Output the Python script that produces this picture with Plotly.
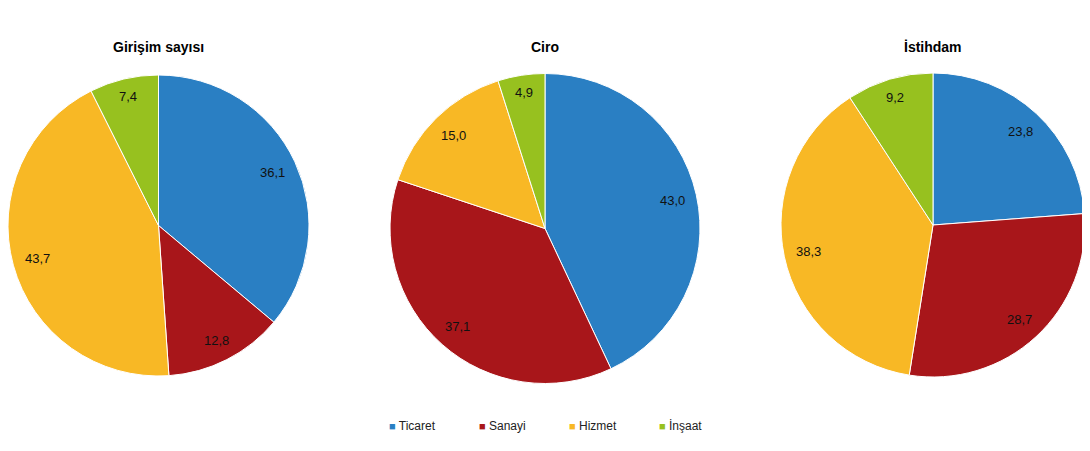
import math
import plotly.graph_objects as go

categories = ["Ticaret", "Sanayi", "Hizmet", "İnşaat"]
girisim = [36.1, 12.8, 43.7, 7.4]
ciro = [43.0, 37.1, 15.0, 4.9]
istihdam = [23.8, 28.7, 38.3, 9.2]
titles = ["Girişim sayısı", "Ciro", "İstihdam"]
colors = ["#2a7fc3", "#a8161a", "#f8b825", "#97c11f"]

OFF = 8  # page body margin
SW, SH = 1090, 451
W, H = SW, SH - OFF
FONT = "Liberation Sans, Arial"


def px(sx):
    return min(max((sx - OFF) / W, 0), 1)


def py(sy):
    return min(max(1 - (sy - OFF) / H, 0), 1)


# screen-pixel boxes (x0, x1, ytop, ybottom)
boxes = [(8, 309, 74, 377), (390, 700, 73, 384), (781, 1085, 72, 378)]

fig = go.Figure()
for vals, box in zip([girisim, ciro, istihdam], boxes):
    x0, x1, yt, yb = box
    fig.add_trace(go.Pie(
        labels=categories, values=vals, sort=False, direction="clockwise",
        rotation=0, marker=dict(colors=colors, line=dict(color="white", width=1)),
        textinfo="none",
        domain=dict(x=[px(x0), px(x1)], y=[py(yb), py(yt)]),
        showlegend=False, hoverinfo="label+percent",
    ))
    # "inside end" labels
    cx, cy = (x0 + x1) / 2, (yt + yb) / 2
    r = min(x1 - x0, yb - yt) / 2
    total = sum(vals)
    cum = 0
    for v in vals:
        mid = (cum + v / 2) / total * 2 * math.pi
        cum += v
        s, c = math.sin(mid), math.cos(mid)
        txt = ("%.1f" % v).replace(".", ",")
        hw = 3.6 * len(txt)
        hh = 7
        d = r - 9 - (abs(hw * s) + abs(hh * c))
        fig.add_annotation(text=txt, x=px(cx + d * s), y=py(cy - d * c),
                           xref="paper", yref="paper", showarrow=False,
                           xanchor="center", yanchor="middle",
                           font=dict(family=FONT, size=13, color="#111111"))

for c, col in zip(categories, colors):
    fig.add_trace(go.Scatter(
        x=[None], y=[None], mode="markers",
        name="<span style='color:%s;font-size:11px'>■</span> %s" % (col, c),
        marker=dict(symbol="square", size=1, color="rgba(0,0,0,0)")))

centers = [158, 545, 933]
for t, cx in zip(titles, centers):
    fig.add_annotation(text="<b>%s</b>" % t, x=px(cx), y=py(47), xref="paper", yref="paper",
                       showarrow=False, xanchor="center", yanchor="middle",
                       font=dict(family=FONT, size=14, color="#000"))

fig.update_layout(
    width=W, height=H, margin=dict(l=0, r=0, t=0, b=0),
    paper_bgcolor="white", plot_bgcolor="white",
    xaxis=dict(visible=False), yaxis=dict(visible=False),
    legend=dict(orientation="h", x=px(349), y=py(425), xanchor="left", yanchor="middle",
                entrywidth=45, entrywidthmode="pixels", itemwidth=30,
                font=dict(family=FONT, size=12, color="#222")),
)
fig.write_html("out.html")
